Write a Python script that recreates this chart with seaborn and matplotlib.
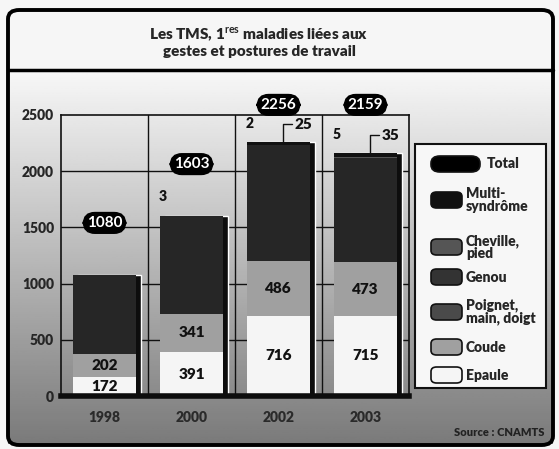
import numpy as np
import pandas as pd
import matplotlib
matplotlib.use("Agg")
import matplotlib.pyplot as plt
import seaborn as sns
from matplotlib.patches import FancyBboxPatch, Rectangle

# =====================================
# DATA
# =====================================

years = ["1998", "2000", "2002", "2003"]

epaule = [172, 391, 716, 715]
coude = [202, 341, 486, 473]
poignet = [706, 868, 1027, 931]
genou = [0, 0, 0, 0]
cheville = [0, 3, 2, 5]
multi = [0, 0, 25, 35]

totals = [1080, 1603, 2256, 2159]

layers = ["Epaule", "Coude", "Poignet", "Genou", "Cheville", "Multi"]
layer_colors = {
    "Epaule": "#f5f5f5",
    "Coude": "#a0a0a0",
    "Poignet": "#262626",
    "Genou": "#333333",
    "Cheville": "#555555",
    "Multi": "#111111",
}

legend_labels = [
    ("Total", "#000000"),
    ("Multi-\nsyndrôme", "#111111"),
    ("Cheville,\npied", "#555555"),
    ("Genou", "#333333"),
    ("Poignet,\nmain, doigt", "#4a4a4a"),
    ("Coude", "#a0a0a0"),
    ("Epaule", "#f5f5f5"),
]

df = pd.DataFrame({
    "Année": years,
    "Epaule": epaule,
    "Coude": coude,
    "Poignet": poignet,
    "Genou": genou,
    "Cheville": cheville,
    "Multi": multi,
})

cum = df[layers].cumsum(axis=1)

# =====================================
# STYLE
# =====================================

sns.set_theme(style="white")
plt.rcParams["font.family"] = ["Lato", "DejaVu Sans"]
plt.rcParams["font.weight"] = "bold"
plt.rcParams["mathtext.fontset"] = "custom"
plt.rcParams["mathtext.bf"] = "Lato:bold"
plt.rcParams["mathtext.rm"] = "Lato:bold"

W, H = 559, 449
fig = plt.figure(figsize=(W / 100, H / 100), dpi=100)
fig.patch.set_facecolor("#f6f6f6")

def fx(px):
    return px / W

def fy(py):
    return 1 - py / H

# gradient background (lower panel)
bg = fig.add_axes([fx(8), fy(444), fx(545), (444 - 70) / H], zorder=0)
grad = np.linspace(0.97, 0.48, 200).reshape(-1, 1)
bg.imshow(grad, aspect="auto", cmap="gray", vmin=0, vmax=1, extent=[0, 1, 0, 1])
bg.axis("off")

# frame + title divider
fig.patches.append(FancyBboxPatch(
    (fx(8), fy(445)), fx(545), (445 - 10) / H,
    boxstyle="round,pad=0,rounding_size=0.02",
    transform=fig.transFigure, fill=False, ec="black", lw=2.8, zorder=5
))
fig.lines.append(plt.Line2D([fx(8), fx(553)], [fy(70), fy(70)],
                            transform=fig.transFigure, color="black", lw=2.5, zorder=5))

fig.text(fx(259), fy(42),
         r"Les TMS, 1$^{\mathbf{res}}$ maladies liées aux" "\n" "gestes et postures de travail",
         ha="center", va="center", fontsize=11, fontweight="heavy", linespacing=1.05)

# =====================================
# BARS
# =====================================

ax = fig.add_axes([fx(61), fy(396), fx(409 - 61), (396 - 115) / H], zorder=2)
ax.set_facecolor("none")

x = np.arange(len(years))

# shadow
ax.bar(x + 0.06, totals, width=0.73, color="#0d0d0d", zorder=1)

for layer in reversed(layers):
    sns.barplot(x=df["Année"], y=cum[layer], color=layer_colors[layer],
                width=0.73, saturation=1, errorbar=None, linewidth=0,
                ax=ax, zorder=2)

ax.set_xlim(-0.5, 3.5)
ax.set_ylim(0, 2500)
ax.set_yticks(range(0, 2501, 500))
ax.set_xlabel("")
ax.set_ylabel("")

for v in range(500, 2500, 500):
    ax.axhline(v, color="#111111", lw=1, zorder=0)
for b in [0.5, 1.5, 2.5]:
    ax.axvline(b, color="#111111", lw=1, zorder=0)

for side in ["left", "top", "right"]:
    ax.spines[side].set_color("#111111")
    ax.spines[side].set_linewidth(1.2)
ax.spines["bottom"].set_color("#0d0d0d")
ax.spines["bottom"].set_linewidth(4)

ax.tick_params(axis="both", length=0)
ax.tick_params(axis="y", pad=5)
ax.tick_params(axis="x", pad=11)
for lab in ax.get_yticklabels():
    lab.set_fontweight("heavy")
    lab.set_fontsize(10)
for lab in ax.get_xticklabels():
    lab.set_fontweight("heavy")
    lab.set_fontsize(10)
    lab.set_color("#2a2a2a")

# value labels (Epaule, Coude)
for i in range(len(years)):
    ax.text(i, epaule[i] / 2, str(epaule[i]), ha="center", va="center",
            fontsize=11, fontweight="heavy", color="#111111", zorder=4)
    ax.text(i, epaule[i] + coude[i] / 2, str(coude[i]), ha="center", va="center",
            fontsize=11, fontweight="heavy", color="#111111", zorder=4)

# total pills
for i, t in enumerate(totals):
    ax.text(i, min(t + 460, 2590), str(t), ha="center", va="center",
            fontsize=11, fontweight="bold", color="white", zorder=6, clip_on=False,
            bbox=dict(boxstyle="round,pad=0.22,rounding_size=0.75", fc="black", ec="black"))

# small labels near the top of the bars
for i in range(len(years)):
    if cheville[i]:
        ax.text(i - 0.33, totals[i] + 170, str(cheville[i]), ha="center", va="center",
                fontsize=10, fontweight="heavy", color="#111111", zorder=4)
    if multi[i]:
        top, lab_y = totals[i], totals[i] + 160
        ax.plot([i + 0.05, i + 0.05, i + 0.16], [top, lab_y, lab_y],
                color="#111111", lw=1, zorder=4, clip_on=False)
        ax.text(i + 0.29, lab_y, str(multi[i]), ha="center", va="center",
                fontsize=11, fontweight="heavy", color="#111111", zorder=4)

# =====================================
# LEGEND (drawn by hand)
# =====================================

fig.patches.append(Rectangle((fx(415), fy(388)), fx(546 - 415), (388 - 144) / H,
                             transform=fig.transFigure, fc="#f7f7f7", ec="#111111",
                             lw=1.5, zorder=6))

leg_y = [164, 200, 247, 277, 312, 347, 375]
for (label, col), yy in zip(legend_labels, leg_y):
    if label == "Total":
        sw_w, tx, rs = 49, 487, 0.016
    else:
        sw_w, tx, rs = 31, 466, 0.01
    fig.patches.append(FancyBboxPatch(
        (fx(431), fy(yy + 8)), fx(sw_w), 16 / H,
        boxstyle=f"round,pad=0,rounding_size={rs}",
        transform=fig.transFigure, fc=col, ec="#111111", lw=1.2, zorder=7
    ))
    fig.text(fx(tx), fy(yy), label, ha="left", va="center", fontsize=10,
             fontweight="heavy", linespacing=0.95, zorder=8)

fig.text(fx(545), fy(432), "Source : CNAMTS", ha="right", va="center",
         fontsize=8, fontweight="heavy", color="#222222", zorder=8)

fig.savefig("out.png", dpi=100, facecolor=fig.get_facecolor())
